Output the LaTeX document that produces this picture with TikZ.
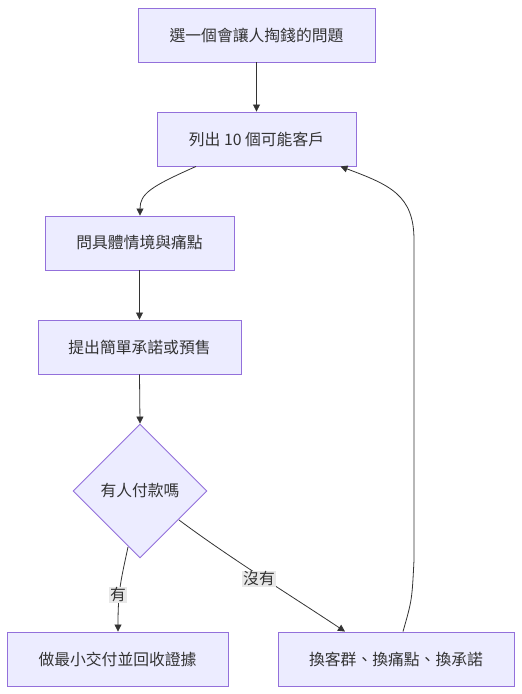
\documentclass[tikz,border=0pt]{standalone}
\usepackage{fontspec}
\setmainfont{Noto Sans CJK TC}
\usetikzlibrary{arrows.meta,shapes.geometric}
\definecolor{boxfill}{HTML}{ECECFF}
\definecolor{boxline}{HTML}{9370DB}
\definecolor{edgecol}{HTML}{333333}
\definecolor{lblbg}{HTML}{E8E8E8}
\tikzset{
  flowbox/.style={draw=boxline, fill=boxfill, line width=0.9pt, text=edgecol, font=\fontsize{15.8}{19}\selectfont, inner sep=0pt, minimum height=54pt},
  decide/.style={diamond, draw=boxline, fill=boxfill, line width=0.9pt, text=edgecol, font=\fontsize{15.8}{19}\selectfont, inner sep=0pt, minimum width=134pt, minimum height=134pt},
  flowedge/.style={draw=edgecol, line width=0.8pt, -{Triangle[length=7pt,width=7pt]}},
  elabel/.style={fill=lblbg, text=edgecol, font=\fontsize{15.8}{19}\selectfont, inner sep=1pt}
}
\begin{document}
\begin{tikzpicture}[x=1pt,y=-1pt]
\useasboundingbox[fill=white] (0,0) rectangle (522,694);
\node[flowbox, minimum width=237pt] (n1) at (256.5,35) {選一個會讓人掏錢的問題};
\node[flowbox, minimum width=199pt] (n2) at (256.5,139) {列出 10 個可能客戶};
\node[flowbox, minimum width=189pt] (n3) at (139.5,243) {問具體情境與痛點};
\node[flowbox, minimum width=203pt] (n4) at (139.5,347) {提出簡單承諾或預售};
\node[decide] (d) at (140,491) {有人付款嗎};
\node[flowbox, minimum width=221pt] (n5) at (117.5,659) {做最小交付並回收證據};
\node[flowbox, minimum width=236pt] (n6) at (396,659) {換客群、換痛點、換承諾};

\draw[flowedge] (n1.south) -- (n2.north);
\draw[flowedge] ([xshift=-60.5pt]n2.south) .. controls +(-45,20) and +(0,-22) .. ([xshift=0.5pt]n3.north);
\draw[flowedge] (n3.south) -- (n4.north);
\draw[flowedge] (n4.south) -- (d.north);
\coordinate (y0) at (128,547);
\draw[flowedge] (y0) .. controls (121,580) and (118,590) .. ([xshift=0.5pt]n5.north);
\node[elabel] (ly) at (118,595) {有};
\coordinate (no0) at (179,520);
\draw[flowedge] (no0) .. controls (230,558) and (290,595) .. ([xshift=-51pt]n6.north);
\node[elabel] (ln) at (259,579) {沒有};
\coordinate (r1) at (414,560);
\coordinate (r2) at (414,240);
\draw[flowedge] ([xshift=7pt]n6.north) .. controls (412,600) .. (r1) -- (r2) .. controls (414,195) and (390,185) .. ([xshift=84pt]n2.south);
\end{tikzpicture}
\end{document}
